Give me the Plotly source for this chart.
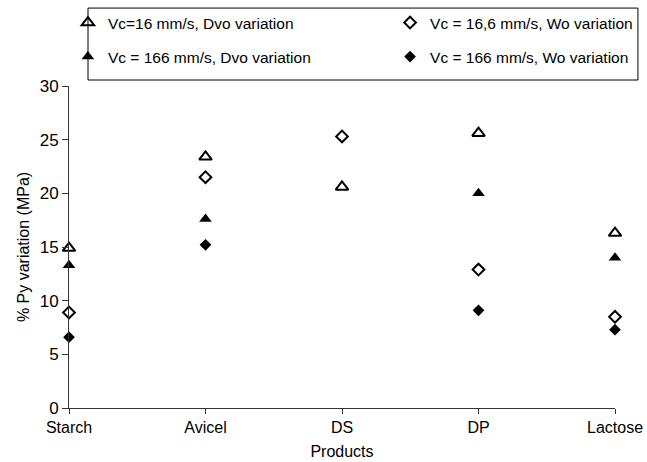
import plotly.graph_objects as go

categories = ["Starch", "Avicel", "DS", "DP", "Lactose"]
x_pos = [0, 1, 2, 3, 4]

vc16_dvo = [14.9, 23.4, 20.6, 25.6, 16.3]
vc16_wo = [8.9, 21.5, 25.3, 12.9, 8.5]
vc166_dvo = [13.3, 17.6, None, 20.0, 14.0]
vc166_wo = [6.6, 15.2, None, 9.1, 7.3]

series = [
    ("Vc=16 mm/s, Dvo variation", vc16_dvo, "triangle-up-open", "legend"),
    ("Vc = 16,6 mm/s, Wo variation", vc16_wo, "diamond-open", "legend2"),
    ("Vc = 166 mm/s, Dvo variation", vc166_dvo, "triangle-up", "legend3"),
    ("Vc = 166 mm/s, Wo variation", vc166_wo, "diamond", "legend4"),
]

fig = go.Figure()
for name, vals, sym, leg in series:
    is_tri = "triangle" in sym
    fig.add_trace(go.Scatter(
        x=x_pos, y=vals, mode="markers", name=name, cliponaxis=False,
        legend=leg,
        marker=dict(symbol=sym, size=11 if is_tri else 9, color="black",
                    line=dict(color="black", width=2 if "open" in sym else 0)),
    ))

leg_common = dict(
    orientation="h", xanchor="left", yanchor="middle",
    borderwidth=0, bgcolor="rgba(0,0,0,0)",
    font=dict(size=15.5), itemsizing="trace",
)

col1, col2 = -0.002, 0.588
row1, row2 = 1.1957, 1.090

fig.update_layout(
    width=647, height=462,
    margin=dict(l=69, r=32, t=86, b=54, autoexpand=False),
    paper_bgcolor="white", plot_bgcolor="white",
    font=dict(family="Liberation Sans, Arial", size=16, color="black"),
    showlegend=True,
    legend=dict(x=col1, y=row1, **leg_common),
    legend2=dict(x=col2, y=row1, **leg_common),
    legend3=dict(x=col1, y=row2, **leg_common),
    legend4=dict(x=col2, y=row2, **leg_common),
    xaxis=dict(
        range=[0, 4], tickmode="array", tickvals=x_pos, ticktext=categories,
        showline=True, linecolor="#333", linewidth=1, ticks="outside",
        ticklen=5, tickcolor="#333", showgrid=False, zeroline=False,
        title=dict(text="Products", standoff=10, font=dict(size=16)),
        tickfont=dict(size=16),
    ),
    yaxis=dict(
        range=[0, 30], dtick=5, showline=True, linecolor="#333", linewidth=1,
        ticks="outside", ticklen=6, tickcolor="#333", showgrid=False,
        zeroline=False,
        title=dict(text="% Py variation (MPa)", standoff=6, font=dict(size=16)),
        tickfont=dict(size=17),
    ),
    shapes=[dict(
        type="rect", xref="paper", yref="paper",
        x0=0.0348, x1=1.042, y0=1.0186, y1=1.242,
        line=dict(color="black", width=1), fillcolor="rgba(0,0,0,0)",
    )],
)

fig.write_html("out.html")
